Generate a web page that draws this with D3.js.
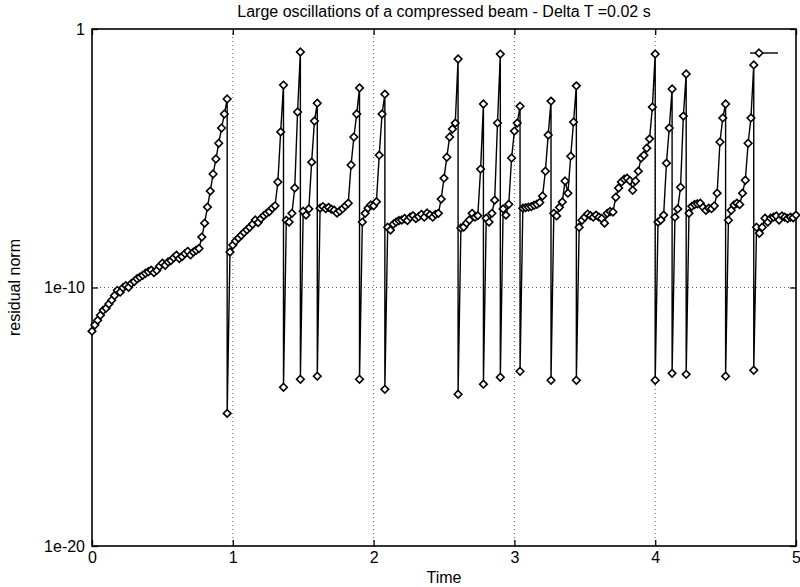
<!DOCTYPE html>
<html>
<head>
<meta charset="utf-8">
<script src="https://cdn.jsdelivr.net/npm/d3@7"></script>
<style>
  body { margin: 0; background: #fff; }
  svg { display: block; font-family: "Liberation Sans", Arial, sans-serif; }
</style>
</head>
<body>
<div id="chart"></div>
<script>
// time step of the run (s)
const deltaT = 0.02;

// log10 of residual norm, one value per time step (step 0 .. 250)
const residualExp = [
  -11.69, -11.45, -11.27, -11.07, -10.88, -10.80, -10.64, -10.49, -10.31, -10.11,
  -10.18, -10.01, -9.93, -9.99, -9.84, -9.77, -9.66, -9.60, -9.53, -9.45,
  -9.39, -9.33, -9.42, -9.34, -9.18, -9.06, -9.14, -9.01, -8.96, -8.85,
  -8.75, -8.88, -8.80, -8.69, -8.60, -8.74, -8.63, -8.56, -8.49, -8.05,
  -7.51, -6.89, -6.27, -5.61, -5.03, -4.42, -3.83, -3.29, -2.71, -8.63,
  -8.36, -8.20, -8.09, -7.98, -7.87, -7.77, -7.67, -7.55, -7.39, -7.49,
  -7.33, -7.22, -7.13, -7.06, -6.93, -6.84, -5.92, -3.98, -2.17, -7.40,
  -7.47, -7.13, -6.15, -3.21, -0.89, -7.05, -7.20, -6.96, -5.15, -3.56,
  -2.87, -6.93, -6.87, -6.95, -6.90, -6.97, -7.01, -7.12, -7.04, -6.95,
  -6.84, -6.74, -5.26, -4.18, -3.29, -2.28, -7.47, -7.13, -6.93, -6.81,
  -6.84, -6.68, -4.88, -3.29, -2.52, -7.67, -7.78, -7.55, -7.47, -7.41,
  -7.39, -7.33, -7.41, -7.28, -7.22, -7.33, -7.26, -7.17, -7.28, -7.12,
  -7.19, -7.28, -7.17, -7.13, -6.58, -5.77, -4.96, -4.18, -3.87, -3.64,
  -1.16, -7.70, -7.66, -7.51, -7.39, -7.13, -7.28, -7.22, -5.42, -2.90,
  -7.32, -7.47, -7.13, -6.62, -3.64, -0.97, -6.96, -7.20, -6.78, -4.99,
  -3.95, -3.64, -2.99, -6.93, -6.91, -6.89, -6.87, -6.82, -6.78, -6.71,
  -6.46, -5.50, -4.10, -2.79, -7.13, -7.23, -6.90, -6.69, -5.88, -6.35,
  -4.92, -3.60, -2.20, -7.67, -7.40, -7.28, -7.16, -7.22, -7.28, -7.20,
  -7.28, -7.33, -7.51, -7.13, -7.06, -7.08, -6.51, -6.15, -5.92, -5.81,
  -5.77, -5.87, -6.24, -5.88, -5.50, -4.99, -4.88, -4.61, -4.25, -3.02,
  -0.97, -7.47, -7.39, -7.20, -5.19, -3.83, -2.32, -7.28, -6.96, -6.12,
  -3.37, -1.74, -7.13, -6.86, -6.79, -6.76, -6.74, -6.90, -7.01, -6.93,
  -6.95, -6.84, -6.35, -4.37, -3.44, -2.90, -7.40, -7.01, -6.81, -6.74,
  -6.79, -6.35, -5.85, -4.42, -3.44, -1.39, -7.67, -7.90, -7.67, -7.32,
  -7.47, -7.32, -7.28, -7.23, -7.39, -7.23, -7.28, -7.33, -7.28, -7.30, -7.20
];

// steps where the residual collapses right after a peak (same time, second value)
const dropSteps = [48, 68, 74, 80, 95, 104, 130, 139, 145, 152, 163, 172, 200, 206, 211, 225, 235];
const dropExp = [-14.87, -13.86, -13.55, -13.43, -13.55, -13.94, -14.13, -13.74, -13.47,
                 -13.24, -13.59, -13.59, -13.59, -13.32, -13.36, -13.43, -13.20];

const xTicks = [0, 1, 2, 3, 4, 5];
const yTicks = [1, 1e-10, 1e-20];
const yTickLabels = ["1", "1e-10", "1e-20"];

const titleText = "Large oscillations of a compressed beam - Delta T =0.02 s";

document.addEventListener("DOMContentLoaded", function () {
  const widthValue = 800;
  const heightValue = 587;
  const margin = { top: 29, right: 4, bottom: 41, left: 92 };

  const svg = d3.select("#chart")
    .append("svg")
    .attr("width", widthValue)
    .attr("height", heightValue);

  svg.append("rect")
    .attr("width", widthValue)
    .attr("height", heightValue)
    .attr("fill", "#fff");

  const xScale = d3.scaleLinear()
    .domain([0, 5])
    .range([margin.left, widthValue - margin.right]);

  const yScale = d3.scaleLog()
    .domain([1e-20, 1])
    .range([heightValue - margin.bottom, margin.top]);

  // build the series: each step, plus the collapse value at drop steps
  const points = [];
  residualExp.forEach(function (e, i) {
    const t = i * deltaT;
    points.push({ t: t, r: Math.pow(10, e) });
    const k = dropSteps.indexOf(i);
    if (k >= 0) points.push({ t: t, r: Math.pow(10, dropExp[k]) });
  });

  // grid
  const grid = svg.append("g")
    .attr("stroke", "#333")
    .attr("stroke-width", 0.8)
    .attr("stroke-dasharray", "1,3");
  grid.selectAll("line.vx")
    .data(xTicks.slice(1, -1))
    .enter().append("line")
      .attr("x1", d => xScale(d)).attr("x2", d => xScale(d))
      .attr("y1", yScale(1)).attr("y2", yScale(1e-20));
  grid.append("line")
    .attr("x1", xScale(0)).attr("x2", xScale(5))
    .attr("y1", yScale(1e-10)).attr("y2", yScale(1e-10));

  // axes (ticks drawn inward like the original)
  svg.append("g")
    .attr("transform", `translate(0, ${yScale(1e-20)})`)
    .call(d3.axisBottom(xScale).tickValues(xTicks).tickSize(-6).tickPadding(6).tickFormat(d3.format("d")));
  svg.append("g")
    .attr("transform", `translate(0, ${yScale(1)})`)
    .call(d3.axisTop(xScale).tickValues(xTicks).tickSize(-6).tickFormat(""));
  svg.append("g")
    .attr("transform", `translate(${xScale(0)}, 0)`)
    .call(d3.axisLeft(yScale).tickValues(yTicks).tickSize(-6).tickPadding(7)
      .tickFormat((d, i) => yTickLabels[i]));
  svg.append("g")
    .attr("transform", `translate(${xScale(5)}, 0)`)
    .call(d3.axisRight(yScale).tickValues(yTicks).tickSize(-6).tickFormat(""));

  svg.selectAll(".domain").remove();
  svg.selectAll(".tick line").attr("stroke", "#000").attr("stroke-width", 1.3);
  svg.selectAll(".tick text")
    .attr("fill", "#000")
    .style("font-size", "16px")
    .style("font-family", "'Liberation Sans', Arial, sans-serif");

  // frame
  svg.append("rect")
    .attr("x", xScale(0))
    .attr("y", yScale(1))
    .attr("width", xScale(5) - xScale(0))
    .attr("height", yScale(1e-20) - yScale(1))
    .attr("fill", "none")
    .attr("stroke", "#000")
    .attr("stroke-width", 1.6);

  // series line
  const line = d3.line()
    .x(d => xScale(d.t))
    .y(d => yScale(d.r));

  svg.append("path")
    .datum(points)
    .attr("d", line)
    .attr("fill", "none")
    .attr("stroke", "#000")
    .attr("stroke-width", 1.4);

  const diamond = "M0,-3.8L3.8,0L0,3.8L-3.8,0Z";

  svg.append("g")
    .selectAll("path")
    .data(points)
    .enter().append("path")
      .attr("d", diamond)
      .attr("transform", d => `translate(${xScale(d.t)}, ${yScale(d.r)})`)
      .attr("fill", "#fff")
      .attr("stroke", "#000")
      .attr("stroke-width", 1.6);

  // legend sample (no label)
  const legend = svg.append("g").attr("transform", "translate(750, 53)");
  legend.append("line")
    .attr("x1", 0).attr("x2", 28)
    .attr("stroke", "#000").attr("stroke-width", 1.4);
  legend.append("path")
    .attr("d", diamond)
    .attr("transform", "translate(9, 0)")
    .attr("fill", "#fff").attr("stroke", "#000").attr("stroke-width", 1.6);

  // titles
  svg.append("text")
    .attr("x", (xScale(0) + xScale(5)) / 2)
    .attr("y", 17)
    .attr("text-anchor", "middle")
    .style("font-size", "16px")
    .text(titleText);

  svg.append("text")
    .attr("x", (xScale(0) + xScale(5)) / 2)
    .attr("y", 583)
    .attr("text-anchor", "middle")
    .style("font-size", "16px")
    .text("Time");

  svg.append("text")
    .attr("transform", `translate(20, ${yScale(1e-10)}) rotate(-90)`)
    .attr("text-anchor", "middle")
    .style("font-size", "16px")
    .text("residual norm");
});
</script>
</body>
</html>
